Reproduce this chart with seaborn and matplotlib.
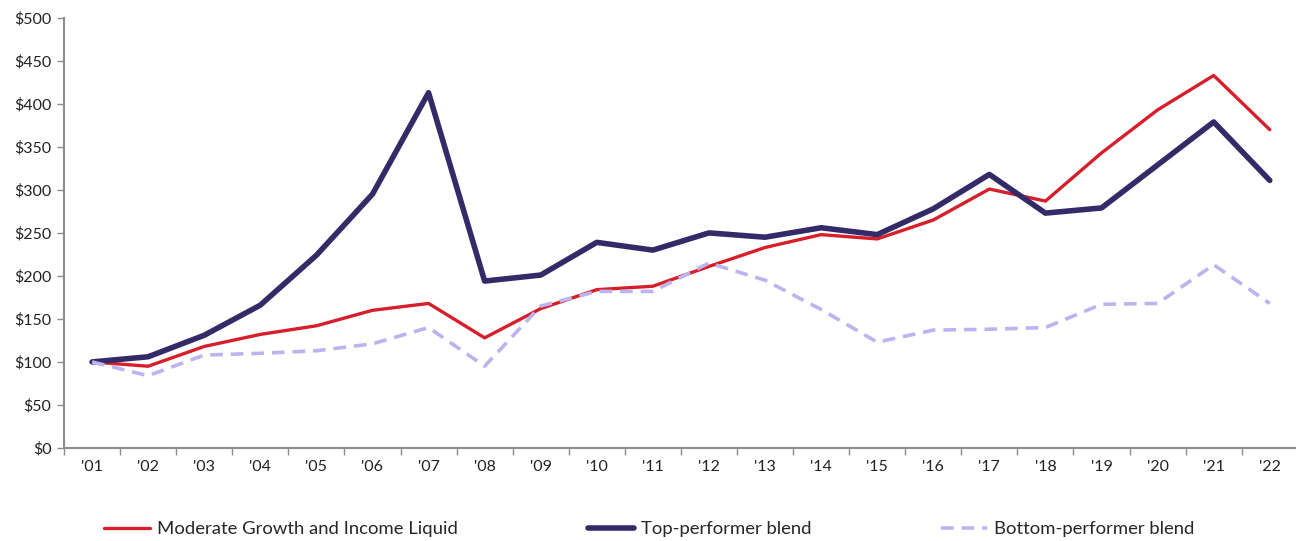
import numpy as np
import pandas as pd
import seaborn as sns
import matplotlib
matplotlib.use("Agg")
import matplotlib.pyplot as plt
from matplotlib.ticker import FuncFormatter, FixedLocator

years = ["'01", "'02", "'03", "'04", "'05", "'06", "'07", "'08", "'09", "'10", "'11",
         "'12", "'13", "'14", "'15", "'16", "'17", "'18", "'19", "'20", "'21", "'22"]

moderate = [100, 95, 118, 132, 142, 160, 168, 128, 162, 184, 188,
            211, 233, 248, 243, 265, 301, 287, 343, 393, 433, 370]
top_perf = [100, 106, 131, 166, 224, 295, 413, 194, 201, 239, 230,
            250, 245, 256, 248, 278, 318, 273, 279, 329, 379, 311]
bottom_perf = [100, 84, 108, 110, 113, 121, 140, 95, 165, 182, 182,
               215, 195, 161, 123, 137, 138, 140, 167, 168, 213, 168]

series_names = ["Moderate Growth and Income Liquid", "Top-performer blend", "Bottom-performer blend"]
colors = ["#d71e2b", "#332b68", "#bcb3ef"]

sns.set_theme(style="white")
plt.rcParams["font.family"] = ["Lato", "DejaVu Sans"]

fig = plt.figure(figsize=(12.96, 5.41), dpi=100)
ax = fig.add_axes([0.0494, 0.172, 0.952, 0.795])

xpos = np.arange(len(years))
df = pd.DataFrame({"x": xpos, "moderate": moderate, "top": top_perf, "bottom": bottom_perf})

sns.lineplot(data=df, x="x", y="moderate", ax=ax, color=colors[0], lw=2.4, label=series_names[0])
sns.lineplot(data=df, x="x", y="top", ax=ax, color=colors[1], lw=4, label=series_names[1])
sns.lineplot(data=df, x="x", y="bottom", ax=ax, color=colors[2], lw=2.6, linestyle=(0, (3.5, 2.2)),
             label=series_names[2])

ax.set_xlim(-0.5, len(years) - 0.5)
ax.set_ylim(0, 500)
ax.set_yticks(np.arange(0, 501, 50))
ax.yaxis.set_major_formatter(FuncFormatter(lambda v, p: f"${int(v)}"))

ax.set_xticks(xpos)
ax.set_xticklabels(years)
ax.xaxis.set_minor_locator(FixedLocator(np.arange(-0.5, len(years), 1.0)))
ax.tick_params(axis="x", which="major", length=0, pad=9, labelsize=11.5, colors="#222222")
ax.tick_params(axis="x", which="minor", length=5, width=1, color="#8c8c8c", direction="out", bottom=True)
ax.tick_params(axis="y", length=5, width=1, color="#8c8c8c", direction="out", left=True,
               labelsize=11.5, labelcolor="#222222", pad=4)

for s in ["top", "right"]:
    ax.spines[s].set_visible(False)
for s in ["left", "bottom"]:
    ax.spines[s].set_color("#8c8c8c")
    ax.spines[s].set_linewidth(1.5)

ax.set_xlabel("")
ax.set_ylabel("")

handles, labels = ax.get_legend_handles_labels()
ax.get_legend().remove()
fig.legend(handles, labels, loc="center", bbox_to_anchor=(0.501, 0.022), ncol=3, frameon=False,
           fontsize=13.3, handlelength=2.5, handletextpad=0.4, columnspacing=7.0)

fig.savefig("out.png", dpi=100)
